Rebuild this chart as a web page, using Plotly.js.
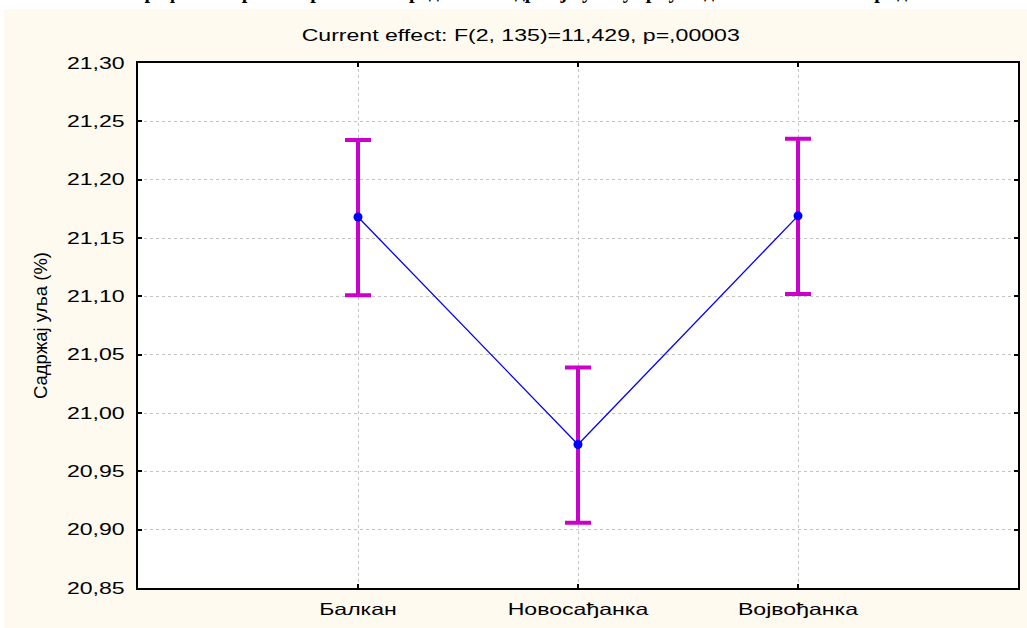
<!DOCTYPE html>
<html>
<head>
<meta charset="utf-8">
<script src="https://cdn.plot.ly/plotly-3.0.1.min.js"></script>
<style>html,body{margin:0;padding:0;background:#ffffff;}#chart{width:1027px;height:628px;}</style>
</head>
<body>
<div id="chart"></div>
<script>
const categories = ['Балкан', 'Новосађанка', 'Војвођанка'];
const means = [21.168, 20.973, 21.169];
const upperErr = [0.066, 0.066, 0.066];
const lowerErr = [0.067, 0.067, 0.067];
const yTicks = [20.85, 20.90, 20.95, 21.00, 21.05, 21.10, 21.15, 21.20, 21.25, 21.30];
const chartTitle = 'Current effect: F(2, 135)=11,429, p=,00003';
const yTitle = 'Садржај уља (%)';
const topCaption = 'Графички приказ просечних вредности садржаја уља у зрну код испитиваних хибрида';

const xIdx = categories.map((c, i) => i);
const FONT = 'Liberation Sans, Arial, sans-serif';
const STRETCH = 1.4;

const traces = [{
  x: xIdx,
  y: means,
  type: 'scatter',
  mode: 'lines+markers',
  line: {color: '#0000ff', width: 1.3},
  marker: {color: '#0000ff', size: 9},
  error_y: {type: 'data', symmetric: false, array: upperErr, arrayminus: lowerErr,
            color: '#cc00cc', thickness: 4, width: 13},
  hoverinfo: 'skip'
}];

const layout = {
  width: 1027, height: 628,
  paper_bgcolor: '#fffaf0',
  plot_bgcolor: '#ffffff',
  separators: ',.',
  showlegend: false,
  margin: {l: 138, r: 9, t: 63, b: 40},
  font: {family: FONT, size: 16.5, color: '#000'},
  title: {text: chartTitle, x: 0.507, xanchor: 'center', y: 0.944, yanchor: 'middle',
          font: {size: 16.5, family: FONT, color: '#000'}},
  xaxis: {
    range: [-1, 3], tickmode: 'array', tickvals: xIdx, ticktext: categories,
    showgrid: true, gridcolor: '#c4c4c4', griddash: '3px,3px', gridwidth: 1,
    zeroline: false, showline: true, linecolor: '#000', linewidth: 2, mirror: 'ticks',
    ticks: 'inside', ticklen: 4, tickcolor: '#000', tickwidth: 2,
    ticklabelstandoff: 5,
    tickfont: {size: 16.5}
  },
  yaxis: {
    range: [20.85, 21.30], tickmode: 'array', tickvals: yTicks, tickformat: '.2f',
    showgrid: true, gridcolor: '#c4c4c4', griddash: '3px,3px', gridwidth: 1,
    zeroline: false, showline: true, linecolor: '#000', linewidth: 2, mirror: 'ticks',
    ticks: 'inside', ticklen: 4, tickcolor: '#000', tickwidth: 2,
    ticklabelstandoff: 8,
    tickfont: {size: 16.5},
    title: {text: yTitle, standoff: 12, font: {size: 18.5}}
  },
  shapes: [
    {type: 'rect', xref: 'paper', yref: 'paper', x0: -0.2, x1: 1.02,
     y0: 1 + 54 / 525, y1: 1.2, fillcolor: '#ffffff', line: {width: 0}, layer: 'below'},
    {type: 'rect', xref: 'paper', yref: 'paper', x0: -0.2, x1: -134 / 880,
     y0: -0.2, y1: 1.2, fillcolor: '#ffffff', line: {width: 0}, layer: 'below'}
  ],
  annotations: [{text: '<b>' + topCaption + '</b>', xref: 'paper', yref: 'paper',
                 x: 0.44, y: 1 + 58 / 525, xanchor: 'center', yanchor: 'bottom', showarrow: false,
                 font: {family: 'Liberation Serif, Times New Roman, serif', size: 20, color: '#000'}}]
};

Plotly.newPlot('chart', traces, layout, {staticPlot: true, displayModeBar: false}).then(() => {
  document.querySelectorAll('#chart svg text').forEach(t => {
    const existing = t.getAttribute('transform') || '';
    if (t.classList.contains('ytitle')) {
      t.setAttribute('transform', 'translate(-19,0) ' + existing);
      return;
    }
    if (t.closest('.annotation')) return;
    const x = parseFloat(t.getAttribute('x')) || 0;
    t.setAttribute('transform', existing + ' translate(' + x + ',0) scale(' + STRETCH + ',1) translate(' + (-x) + ',0)');
  });
});
</script>
</body>
</html>
